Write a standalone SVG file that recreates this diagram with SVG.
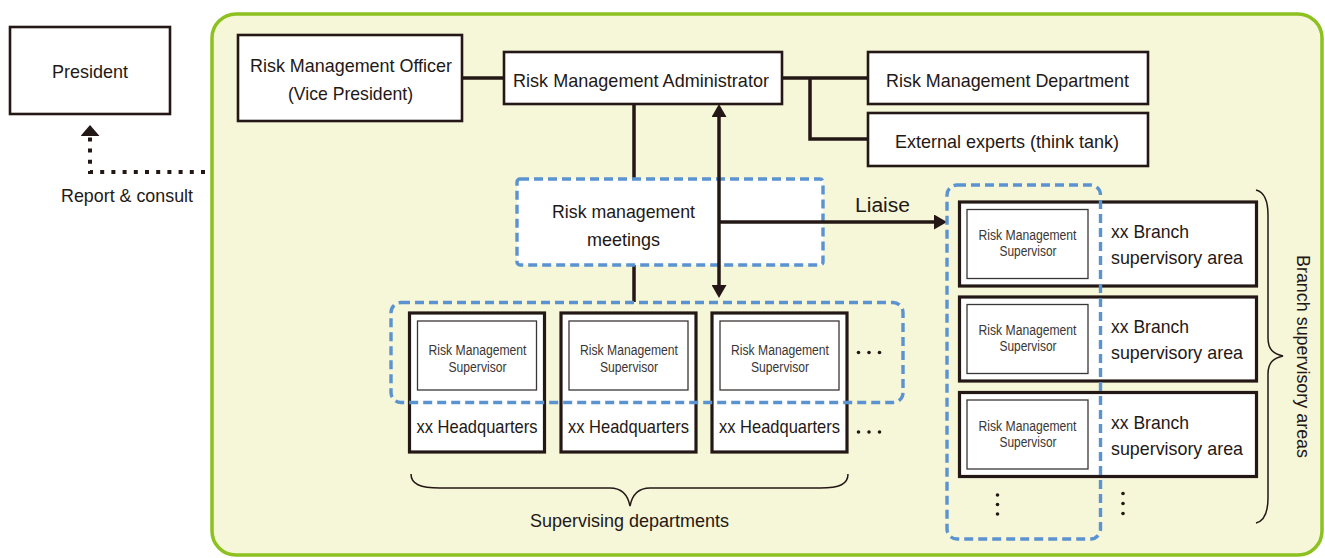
<svg xmlns="http://www.w3.org/2000/svg" width="1325" height="558" viewBox="0 0 1325 558">
  <style>
    text { font-family: "Liberation Sans", Arial, sans-serif; fill: #231815; }
    .lg { font-size: 19px; }
    .sm { font-size: 14px; fill: #3a3635; }
    .mid { text-anchor: middle; }
    .box { fill: #ffffff; stroke: #231815; stroke-width: 2.6; }
    .unit { fill: #ffffff; stroke: #231815; stroke-width: 3.2; }
    .inner { fill: #ffffff; stroke: #3a3635; stroke-width: 1.3; }
    .dash { fill: none; stroke: #5b93d1; stroke-width: 3.4; stroke-dasharray: 9 5; }
    .link { fill: none; stroke: #231815; stroke-width: 3.5; }
    .brace { fill: none; stroke: #231815; stroke-width: 1.5; }
    .dot { fill: #231815; }
  </style>
  <defs>
    <marker id="arrow" markerUnits="userSpaceOnUse" markerWidth="14" markerHeight="15" refX="5" refY="7.5" orient="auto-start-reverse">
      <path d="M0,0 L13,7.5 L0,15 Z" fill="#231815"/>
    </marker>
    <marker id="arrowLg" markerUnits="userSpaceOnUse" markerWidth="12" markerHeight="19" refX="0" refY="9.5" orient="auto">
      <path d="M0,0 L11,9.5 L0,19 Z" fill="#231815"/>
    </marker>
  </defs>

  <!-- organisation frame -->
  <rect x="212" y="14" width="1110" height="541" rx="24" fill="#f6f6d9" stroke="#8cc11f" stroke-width="3.5"/>

  <!-- connectors -->
  <g id="connectors">
    <path class="link" d="M462,78 L504,78"/>
    <path class="link" d="M782,78 L868,78 M810,78 L810,139 L868,139"/>
    <path class="link" d="M634,104 L634,179 M634,265 L634,302"/>
    <path d="M205,172 L90,172 L90,136" fill="none" stroke="#231815" stroke-width="4" stroke-dasharray="4 7.2" marker-end="url(#arrowLg)"/>
  </g>

  <g id="president">
    <rect class="box" x="10" y="27" width="160" height="87"/>
    <text class="lg mid" x="90" y="78" textLength="76" lengthAdjust="spacingAndGlyphs">President</text>
  </g>
  <text class="lg" x="61" y="202" textLength="132" lengthAdjust="spacingAndGlyphs">Report &amp; consult</text>

  <g id="officer">
    <rect class="box" x="238" y="35" width="224" height="86"/>
    <text class="lg" x="250" y="72" textLength="202" lengthAdjust="spacingAndGlyphs">Risk Management Officer</text>
    <text class="lg" x="288" y="100" textLength="125" lengthAdjust="spacingAndGlyphs">(Vice President)</text>
  </g>

  <g id="administrator">
    <rect class="box" x="504" y="52" width="278" height="52"/>
    <text class="lg" x="513" y="87" textLength="256" lengthAdjust="spacingAndGlyphs">Risk Management Administrator</text>
  </g>

  <g id="department">
    <rect class="box" x="868" y="52" width="280" height="52"/>
    <text class="lg" x="886" y="87" textLength="243" lengthAdjust="spacingAndGlyphs">Risk Management Department</text>
  </g>

  <g id="experts">
    <rect class="box" x="868" y="113" width="280" height="53"/>
    <text class="lg" x="895" y="148" textLength="224" lengthAdjust="spacingAndGlyphs">External experts (think tank)</text>
  </g>

  <g id="meetings">
    <rect x="517" y="179" width="306" height="86" rx="3" fill="#ffffff" stroke="#5b93d1" stroke-width="3.4" stroke-dasharray="9 5"/>
    <text class="lg" x="552" y="218" textLength="143" lengthAdjust="spacingAndGlyphs">Risk management</text>
    <text class="lg" x="587" y="246" textLength="73" lengthAdjust="spacingAndGlyphs">meetings</text>
  </g>

  <!-- arrows drawn over the meetings box -->
  <g id="arrows">
    <path class="link" d="M719,112 L719,290" marker-start="url(#arrow)" marker-end="url(#arrow)"/>
    <path class="link" d="M719,222 L939,222" marker-end="url(#arrow)"/>
    <text x="855" y="212" font-size="20" textLength="55" lengthAdjust="spacingAndGlyphs">Liaise</text>
  </g>

  <!-- supervising departments -->
  <g id="hq1">
    <rect class="unit" x="409.5" y="313" width="135" height="139"/>
    <rect class="inner" x="417.5" y="321" width="119" height="69"/>
    <text class="sm" x="428.5" y="355" textLength="98" lengthAdjust="spacingAndGlyphs">Risk Management</text>
    <text class="sm" x="448.5" y="372" textLength="58" lengthAdjust="spacingAndGlyphs">Supervisor</text>
    <text class="lg" x="416.5" y="433" textLength="121" lengthAdjust="spacingAndGlyphs">xx Headquarters</text>
  </g>
  <g id="hq2">
    <rect class="unit" x="561" y="313" width="135" height="139"/>
    <rect class="inner" x="569" y="321" width="119" height="69"/>
    <text class="sm" x="580" y="355" textLength="98" lengthAdjust="spacingAndGlyphs">Risk Management</text>
    <text class="sm" x="600" y="372" textLength="58" lengthAdjust="spacingAndGlyphs">Supervisor</text>
    <text class="lg" x="568" y="433" textLength="121" lengthAdjust="spacingAndGlyphs">xx Headquarters</text>
  </g>
  <g id="hq3">
    <rect class="unit" x="712" y="313" width="135" height="139"/>
    <rect class="inner" x="720" y="321" width="119" height="69"/>
    <text class="sm" x="731" y="355" textLength="98" lengthAdjust="spacingAndGlyphs">Risk Management</text>
    <text class="sm" x="751" y="372" textLength="58" lengthAdjust="spacingAndGlyphs">Supervisor</text>
    <text class="lg" x="719" y="433" textLength="121" lengthAdjust="spacingAndGlyphs">xx Headquarters</text>
  </g>
  <g id="hq-more">
    <circle class="dot" cx="858.5" cy="352.5" r="1.8"/>
    <circle class="dot" cx="869" cy="352.5" r="1.8"/>
    <circle class="dot" cx="879.5" cy="352.5" r="1.8"/>
    <circle class="dot" cx="858.5" cy="432" r="1.8"/>
    <circle class="dot" cx="869" cy="432" r="1.8"/>
    <circle class="dot" cx="879.5" cy="432" r="1.8"/>
  </g>
  <rect id="supervisor-group" class="dash" x="391" y="302.5" width="512" height="100" rx="10"/>
  <g id="supervising-label">
    <path class="brace" d="M411,474 C411,484 420,488 440,488 L610,488 C622,488 628,496 630,506 C632,496 638,488 650,488 L820,488 C840,488 848,484 848,474"/>
    <text class="lg mid" x="629.5" y="527" textLength="199" lengthAdjust="spacingAndGlyphs">Supervising departments</text>
  </g>

  <!-- branch supervisory areas -->
  <g id="branch1">
    <rect class="unit" x="959.5" y="202" width="297" height="84"/>
    <rect class="inner" x="967" y="209.5" width="121" height="69"/>
    <text class="sm" x="978.5" y="240" textLength="98" lengthAdjust="spacingAndGlyphs">Risk Management</text>
    <text class="sm" x="999.5" y="256" textLength="57" lengthAdjust="spacingAndGlyphs">Supervisor</text>
    <text class="lg" x="1111" y="238" textLength="78" lengthAdjust="spacingAndGlyphs">xx Branch</text>
    <text class="lg" x="1111" y="264" textLength="132" lengthAdjust="spacingAndGlyphs">supervisory area</text>
  </g>
  <g id="branch2">
    <rect class="unit" x="959.5" y="297" width="297" height="84"/>
    <rect class="inner" x="967" y="304.5" width="121" height="69"/>
    <text class="sm" x="978.5" y="335" textLength="98" lengthAdjust="spacingAndGlyphs">Risk Management</text>
    <text class="sm" x="999.5" y="351" textLength="57" lengthAdjust="spacingAndGlyphs">Supervisor</text>
    <text class="lg" x="1111" y="333" textLength="78" lengthAdjust="spacingAndGlyphs">xx Branch</text>
    <text class="lg" x="1111" y="359" textLength="132" lengthAdjust="spacingAndGlyphs">supervisory area</text>
  </g>
  <g id="branch3">
    <rect class="unit" x="959.5" y="392.5" width="297" height="84"/>
    <rect class="inner" x="967" y="400" width="121" height="69"/>
    <text class="sm" x="978.5" y="430.5" textLength="98" lengthAdjust="spacingAndGlyphs">Risk Management</text>
    <text class="sm" x="999.5" y="446.5" textLength="57" lengthAdjust="spacingAndGlyphs">Supervisor</text>
    <text class="lg" x="1111" y="428.5" textLength="78" lengthAdjust="spacingAndGlyphs">xx Branch</text>
    <text class="lg" x="1111" y="454.5" textLength="132" lengthAdjust="spacingAndGlyphs">supervisory area</text>
  </g>
  <g id="branch-more">
    <circle class="dot" cx="997.5" cy="495" r="1.8"/>
    <circle class="dot" cx="997.5" cy="504.5" r="1.8"/>
    <circle class="dot" cx="997.5" cy="514" r="1.8"/>
    <circle class="dot" cx="1123" cy="493.5" r="1.8"/>
    <circle class="dot" cx="1123" cy="503.5" r="1.8"/>
    <circle class="dot" cx="1123" cy="513.5" r="1.8"/>
  </g>
  <rect id="branch-supervisor-group" class="dash" x="947" y="185" width="153.5" height="354" rx="10"/>
  <g id="branch-label">
    <path class="brace" d="M1256,190 C1264,192 1268,200 1268,215 L1268,338 C1268,350 1274,354 1283,356 C1274,358 1268,362 1268,374 L1268,498 C1268,513 1264,521 1256,523"/>
    <text class="lg mid" transform="translate(1297,356.5) rotate(90)" x="0" y="0" textLength="203" lengthAdjust="spacingAndGlyphs">Branch supervisory areas</text>
  </g>
</svg>
